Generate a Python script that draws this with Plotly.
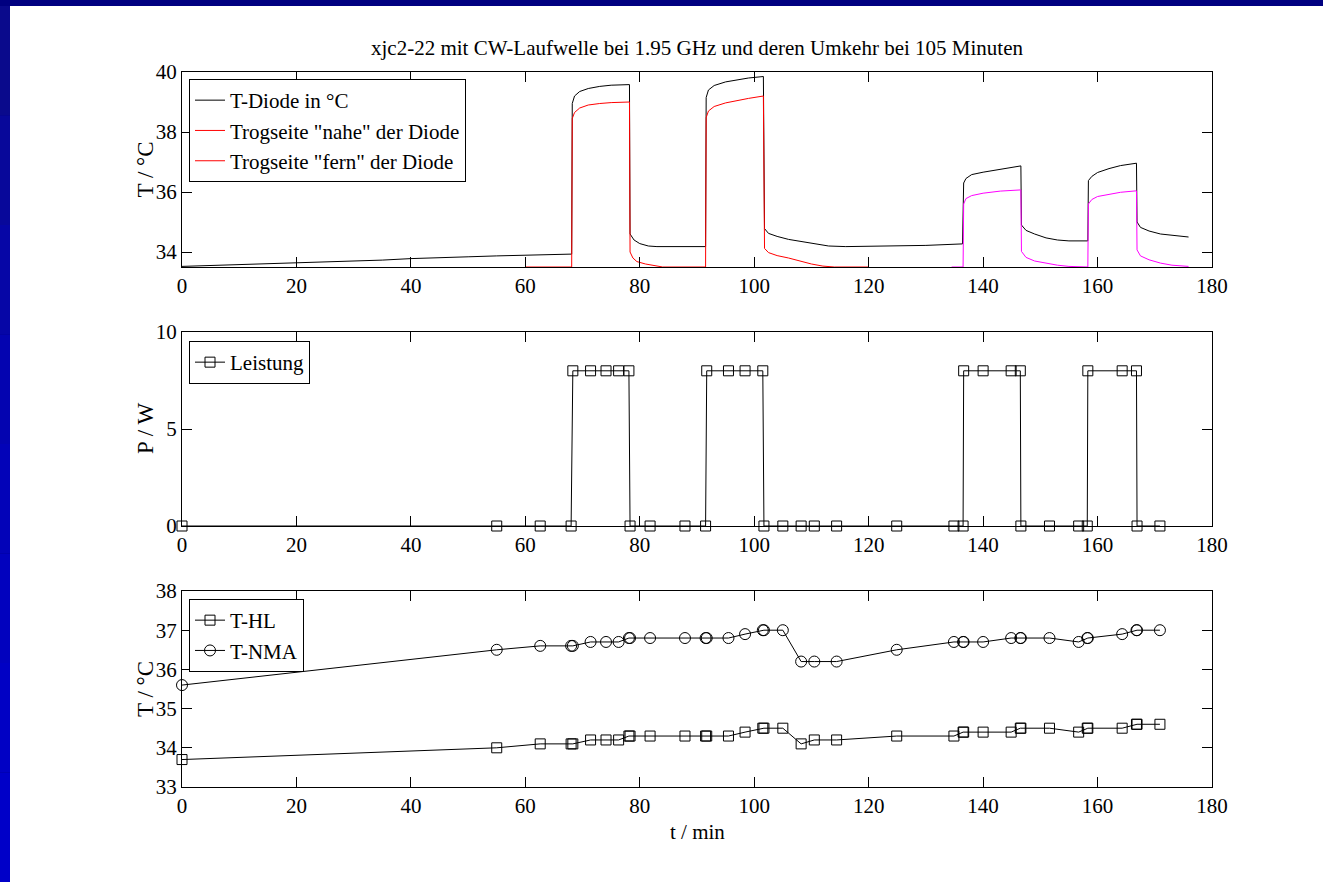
import plotly.graph_objects as go

W, H = 1323, 882
FONT = "Liberation Serif, Times New Roman, serif"

title_text = "xjc2-22 mit CW-Laufwelle bei 1.95 GHz und deren Umkehr bei 105 Minuten"

# ---- top panel: temperatures (continuous logs, hand-read knots) ----
t_diode = [0, 5, 10, 15, 20, 25, 30, 35, 40, 45, 50, 55, 60, 68.1,
           68.2, 68.6, 69.5, 71, 73, 75, 78.2,
           78.3, 79, 80, 81.5, 83, 91.5,
           91.6, 92, 93, 95, 97, 99, 101.6,
           101.8, 102.5, 104, 106, 108, 110, 113, 116, 125, 130, 136.4,
           136.6, 137, 138, 140, 143, 146.6,
           146.7, 147.5, 149, 151, 153, 155, 158.3,
           158.4, 159, 160, 162, 164, 166.8,
           166.9, 167.5, 169, 171, 173, 175.9]
T_diode = [33.52, 33.55, 33.57, 33.6, 33.64, 33.66, 33.7, 33.73, 33.78, 33.8, 33.84, 33.87, 33.9, 33.93,
           38.95, 39.2, 39.35, 39.45, 39.52, 39.56, 39.58,
           34.6, 34.4, 34.28, 34.2, 34.18, 34.18,
           39.15, 39.4, 39.55, 39.67, 39.74, 39.8, 39.85,
           34.78, 34.62, 34.52, 34.42, 34.35, 34.28, 34.2, 34.18, 34.2, 34.22, 34.27,
           36.3, 36.45, 36.58, 36.66, 36.75, 36.87,
           34.9, 34.72, 34.6, 34.47, 34.4, 34.37, 34.37,
           36.38, 36.52, 36.65, 36.78, 36.88, 36.96,
           35.0, 34.82, 34.7, 34.6, 34.55, 34.5]

t_nahe = [60, 68.1, 68.2, 68.6, 69.5, 71, 73, 75, 78.2,
          78.3, 78.8, 79.5, 81, 83, 84, 91.5,
          91.6, 92, 93, 95, 97, 99, 101.6,
          101.8, 102.5, 104, 106, 108, 110, 112, 114, 120]
T_nahe = [33.5, 33.5, 38.45, 38.65, 38.8, 38.9, 38.95, 38.98, 39.0,
          34.0, 33.8, 33.68, 33.6, 33.53, 33.5, 33.5,
          38.48, 38.7, 38.85, 38.97, 39.05, 39.12, 39.2,
          34.12, 33.98, 33.88, 33.8, 33.7, 33.6, 33.53, 33.5, 33.5]

t_fern = [134.5, 136.5, 136.6, 137, 138, 140, 143, 146.6,
          146.7, 147.5, 149, 151, 153, 155, 158.3,
          158.4, 159, 160, 162, 164, 166.8,
          166.9, 167.5, 169, 171, 173, 175.9]
T_fern = [33.5, 33.5, 35.6, 35.78, 35.88, 35.96, 36.03, 36.07,
          34.02, 33.82, 33.7, 33.62, 33.56, 33.52, 33.5,
          35.6, 35.75, 35.85, 35.93, 35.99, 36.04,
          34.07, 33.87, 33.74, 33.63, 33.56, 33.52]

# ---- middle panel: power ----
t_power = [0, 55, 62.6, 68.0, 68.3, 71.4, 74.1, 76.3, 78.1, 78.3, 81.8, 87.9,
           91.5, 91.7, 95.5, 98.4, 101.5, 101.7, 105.0, 108.2, 110.5, 114.4,
           124.9, 134.9, 136.5, 136.6, 140.0, 144.9, 146.5, 146.6, 151.6,
           156.7, 158.2, 158.3, 164.3, 166.8, 166.9, 170.9]
P_power = [0, 0, 0, 0, 8, 8, 8, 8, 8, 0, 0, 0,
           0, 8, 8, 8, 8, 0, 0, 0, 0, 0,
           0, 0, 0, 8, 8, 8, 8, 0, 0,
           0, 0, 8, 8, 8, 0, 0]

# ---- bottom panel: T-HL and T-NMA ----
t_meas = t_power
T_HL = [33.7, 34.0, 34.1, 34.1, 34.1, 34.2, 34.2, 34.2, 34.3, 34.3, 34.3, 34.3,
        34.3, 34.3, 34.3, 34.4, 34.5, 34.5, 34.5, 34.1, 34.2, 34.2,
        34.3, 34.3, 34.4, 34.4, 34.4, 34.4, 34.5, 34.5, 34.5,
        34.4, 34.5, 34.5, 34.5, 34.6, 34.6, 34.6]
T_NMA = [35.6, 36.5, 36.6, 36.6, 36.6, 36.7, 36.7, 36.7, 36.8, 36.8, 36.8, 36.8,
         36.8, 36.8, 36.8, 36.9, 37.0, 37.0, 37.0, 36.2, 36.2, 36.2,
         36.5, 36.7, 36.7, 36.7, 36.7, 36.8, 36.8, 36.8, 36.8,
         36.7, 36.8, 36.8, 36.9, 37.0, 37.0, 37.0]

x_ticks = [0, 20, 40, 60, 80, 100, 120, 140, 160, 180]

# ---- layout geometry (pixels) ----
def px_x(p):
    return p / W

def px_y(p):
    return 1 - p / H

X0, X1 = 182, 1212
panels = [(72, 267), (332, 526), (591, 787)]

fig = go.Figure()

fig.add_trace(go.Scatter(x=t_diode, y=T_diode, mode="lines", name="T-Diode in °C",
                         line=dict(color="black", width=1), xaxis="x", yaxis="y", legend="legend"))
fig.add_trace(go.Scatter(x=t_nahe, y=T_nahe, mode="lines", name='Trogseite "nahe" der Diode',
                         line=dict(color="#ff0000", width=1), xaxis="x", yaxis="y", legend="legend"))
# legend entry for "fern" is drawn in red in the original
fig.add_trace(go.Scatter(x=[None], y=[None], mode="lines", name='Trogseite "fern" der Diode',
                         line=dict(color="#ff0000", width=1), xaxis="x", yaxis="y", legend="legend",
                         showlegend=True))
fig.add_trace(go.Scatter(x=t_fern, y=T_fern, mode="lines", name="fern (nach Umkehr)",
                         line=dict(color="#ff00ff", width=1), xaxis="x", yaxis="y", showlegend=False))

fig.add_trace(go.Scatter(x=t_power, y=P_power, mode="lines+markers", name="Leistung",
                         line=dict(color="black", width=1),
                         marker=dict(symbol="square-open", size=10, color="black", line=dict(width=1)),
                         cliponaxis=False, xaxis="x2", yaxis="y2", legend="legend2"))

fig.add_trace(go.Scatter(x=t_meas, y=T_HL, mode="lines+markers", name="T-HL",
                         line=dict(color="black", width=1),
                         marker=dict(symbol="square-open", size=10, color="black", line=dict(width=1)),
                         cliponaxis=False, xaxis="x3", yaxis="y3", legend="legend3"))
fig.add_trace(go.Scatter(x=t_meas, y=T_NMA, mode="lines+markers", name="T-NMA",
                         line=dict(color="black", width=1),
                         marker=dict(symbol="circle-open", size=11, color="black", line=dict(width=1)),
                         cliponaxis=False, xaxis="x3", yaxis="y3", legend="legend3"))

axis_common = dict(showline=True, linecolor="black", linewidth=1.3, mirror="ticks",
                   ticks="inside", ticklen=10, tickwidth=1, tickcolor="black",
                   showgrid=False, zeroline=False,
                   tickfont=dict(family=FONT, size=21, color="black"))

yranges = [[33.5, 40], [0, 10], [33, 38]]
yticks = [[34, 36, 38, 40], [0, 5, 10], [33, 34, 35, 36, 37, 38]]

layout = dict(
    width=W, height=H,
    margin=dict(l=0, r=0, t=0, b=0, pad=0, autoexpand=False),
    paper_bgcolor="#000080", plot_bgcolor="white",
    font=dict(family=FONT, size=21, color="black"),
    showlegend=True,
)
for i, (top, bot) in enumerate(panels):
    sx = "" if i == 0 else str(i + 1)
    layout["xaxis" + sx] = dict(axis_common, domain=[px_x(X0), px_x(X1)], range=[0, 180],
                                tickvals=x_ticks, anchor="y" + sx)
    layout["yaxis" + sx] = dict(axis_common, domain=[px_y(bot), px_y(top)], range=yranges[i],
                                tickvals=yticks[i], anchor="x" + sx)

legend_pos = [(189, 79), (189, 341), (189, 599)]
for i, (lx, ly) in enumerate(legend_pos):
    key = "legend" if i == 0 else "legend" + str(i + 1)
    layout[key] = dict(x=px_x(lx), y=px_y(ly), xanchor="left", yanchor="top",
                       bgcolor="white", bordercolor="black", borderwidth=1,
                       font=dict(family=FONT, size=21, color="black"),
                       tracegroupgap=0, itemwidth=30)

fig.update_layout(**layout)

# title and axis labels
ann = [
    dict(text=title_text, x=px_x((X0 + X1) / 2), y=px_y(48), size=21),
    dict(text="t / min", x=px_x((X0 + X1) / 2), y=px_y(832), size=21),
    dict(text="T / °C", x=px_x(145), y=px_y(sum(panels[0]) / 2), textangle=-90, size=23),
    dict(text="P / W", x=px_x(145), y=px_y(sum(panels[1]) / 2), textangle=-90, size=23),
    dict(text="T / °C", x=px_x(145), y=px_y(sum(panels[2]) / 2), textangle=-90, size=23),
]
for a in ann:
    fig.add_annotation(xref="paper", yref="paper", showarrow=False, xanchor="center", yanchor="middle",
                       font=dict(family=FONT, color="black", size=a["size"]),
                       text=a["text"], x=a["x"], y=a["y"], textangle=a.get("textangle", 0))

# slide background: white page with a navy top band and a blue gradient strip on the left
shapes = [dict(type="rect", xref="paper", yref="paper", x0=px_x(10), x1=1, y0=0, y1=px_y(6),
               fillcolor="white", line=dict(width=0), layer="below")]
blues = ["#0a0a8c", "#08089a", "#0606a6", "#0404b0", "#0303b8", "#0202be", "#0101c4", "#0000c8"]
n = len(blues)
for k, c in enumerate(blues):
    y_top = 6 + (H - 6) * k / n
    y_bot = 6 + (H - 6) * (k + 1) / n
    shapes.append(dict(type="rect", xref="paper", yref="paper", x0=0, x1=px_x(10),
                       y0=px_y(y_bot), y1=px_y(y_top), fillcolor=c, line=dict(width=0), layer="below"))
fig.update_layout(shapes=shapes)

fig.write_html("out.html",
               post_script="document.body.style.margin='0';document.body.style.overflow='hidden';")
